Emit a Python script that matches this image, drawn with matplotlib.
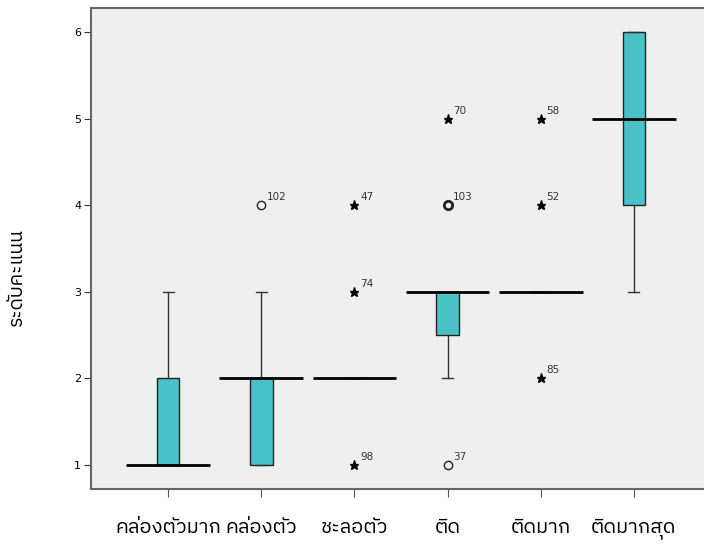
import numpy as np
import matplotlib.pyplot as plt
from matplotlib import font_manager
from matplotlib.ft2font import FT2Font

# pick an installed font with Thai glyphs, sans families first
thai_fonts = []
for f in font_manager.fontManager.ttflist:
    try:
        if 0x0E01 in FT2Font(f.fname).get_charmap():
            thai_fonts.append(f.name)
    except Exception:
        pass
thai_fonts.sort(key=lambda n: (0 if 'Sans' in n else 1, 0 if 'Thai' in n else 1, n))
thai_font = thai_fonts[0] if thai_fonts else 'DejaVu Sans'
plt.rcParams['font.family'] = [thai_font, 'DejaVu Sans']

labels = ['คล่องตัวมาก', 'คล่องตัว', 'ชะลอตัว', 'ติด', 'ติดมาก', 'ติดมากสุด']
q1 = [1, 1, 2, 2.5, 3, 4]
med = [1, 2, 2, 3, 3, 5]
q3 = [2, 2, 2, 3, 3, 6]
whislo = [1, 1, 2, 2, 3, 3]
whishi = [3, 3, 2, 3, 3, 6]

# mild outliers (circles) and extremes (stars): (group, value, case id)
outliers = [(2, 4, '102'), (4, 4, '103'), (4, 1, '37')]
extremes = [(3, 4, '47'), (3, 3, '74'), (3, 1, '98'),
            (4, 5, '70'), (5, 5, '58'), (5, 4, '52'), (5, 2, '85')]

pos = np.arange(1, len(labels) + 1)

fig = plt.figure(figsize=(7.04, 5.45), dpi=100)
ax = fig.add_axes([91/704, 56/545, 620/704, 481/545])
ax.set_facecolor('#efefef')

stats = []
for i in range(len(labels)):
    stats.append(dict(q1=q1[i], med=med[i], q3=q3[i], whislo=whislo[i], whishi=whishi[i], fliers=[]))

ax.bxp(stats, positions=pos, widths=0.24, patch_artist=True, showfliers=False,
       boxprops=dict(facecolor='#48c2c7', edgecolor='#222222', linewidth=1),
       whiskerprops=dict(color='#333333', linewidth=1),
       capprops=dict(color='#333333', linewidth=1),
       medianprops=dict(linewidth=0))

# SPSS style wide median line
ax.hlines(med, pos - 0.45, pos + 0.45, color='black', linewidth=2, zorder=4)

for g, v, lab in outliers:
    lw = 2 if lab == '103' else 1
    ax.plot(g, v, 'o', mfc='none', mec='#222222', mew=lw, ms=6, zorder=5)
    ax.text(g + 0.06, v + 0.06, lab, fontsize=7.5, color='#333333', family='DejaVu Sans')
for g, v, lab in extremes:
    ax.plot(g, v, '*', color='black', ms=6.5, zorder=5)
    ax.text(g + 0.06, v + 0.06, lab, fontsize=7.5, color='#333333', family='DejaVu Sans')

ax.set_xlim(0.17, 6.83)
ax.set_ylim(0.72, 6.28)
ax.set_xticks(pos)
ax.set_xticklabels(labels, fontsize=14.5)
ax.set_yticks([1, 2, 3, 4, 5, 6])
ax.set_yticklabels(['1', '2', '3', '4', '5', '6'], fontsize=8, family='DejaVu Sans')
ax.tick_params(axis='x', length=6, pad=15, color='#555555')
ax.tick_params(axis='y', length=5, pad=2, color='#333333')
for s in ax.spines.values():
    s.set_color('#666666')
    s.set_linewidth(1.5)
ax.spines['right'].set_visible(False)
ax.set_ylabel('ระดับคะแนน', fontsize=14)
ax.yaxis.set_label_coords(-0.105, 0.44)

fig.savefig('out.png', dpi=100)
